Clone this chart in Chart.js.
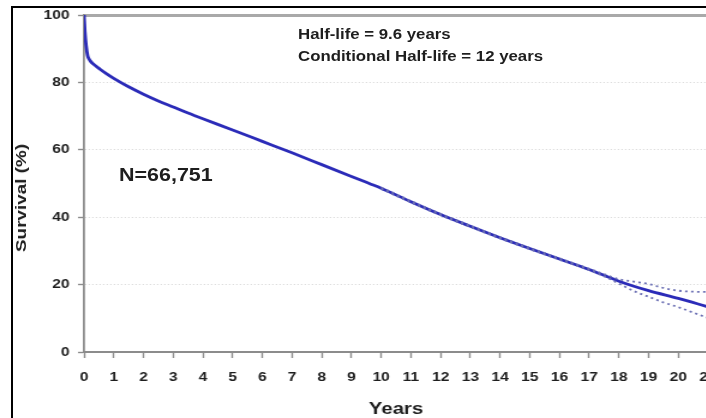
<!DOCTYPE html>
<html>
<head>
<meta charset="utf-8">
<script src="https://cdn.jsdelivr.net/npm/chart.js@4/dist/chart.umd.min.js"></script>
<style>
  html, body { margin: 0; padding: 0; background: #fff; }
  body { position: relative; width: 706px; height: 418px; overflow: hidden; font-family: 'Liberation Sans', Arial, sans-serif; color: #1e1e1e; }
  #frame { position: absolute; left: 11px; top: 6px; width: 800px; height: 500px; border-left: 2px solid #000; border-top: 2px solid #000; }
  /* the plot is drawn slightly condensed and widened horizontally */
  #plot { position: absolute; left: 0; top: 0; width: 620px; height: 430px; transform: scaleX(1.2); transform-origin: 0 0; }
  .note { position: absolute; font-weight: bold; white-space: nowrap; transform-origin: 0 0; }
  #halflife { left: 298px; top: 27.4px; font-size: 14px; line-height: 14px; transform: scaleX(1.2); }
  #condhalf { left: 298px; top: 49.4px; font-size: 14px; line-height: 14px; transform: scaleX(1.2); }
  #ncount { left: 118.5px; top: 164.6px; font-size: 19px; line-height: 19px; transform: scaleX(1.13); }
  #ytitle { position: absolute; left: 21px; top: 198px; font-weight: bold; font-size: 14px; line-height: 16px; white-space: nowrap;
            transform: translate(-50%, -50%) rotate(-90deg) scaleX(1.35); }
</style>
</head>
<body>
<div id="frame"></div>
<div id="plot"><canvas id="c"></canvas></div>
<div class="note" id="halflife">Half-life = 9.6 years</div>
<div class="note" id="condhalf">Conditional Half-life = 12 years</div>
<div class="note" id="ncount">N=66,751</div>
<div id="ytitle">Survival (%)</div>
<script>
// Kaplan-Meier survival estimate (years after transplant, % surviving)
const years = [0, 0.03, 0.07, 0.12, 0.2, 0.35, 0.54, 0.75, 1, 1.5, 2, 2.5, 3, 3.5, 4, 5, 6, 7, 8, 9, 9.6, 10, 11, 12, 13, 14, 15, 16, 17, 18, 19, 20, 21];
const survival = [100, 95, 91, 88, 86.5, 85.2, 83.9, 82.6, 81.2, 78.7, 76.5, 74.5, 72.7, 70.9, 69.2, 65.9, 62.5, 59.1, 55.6, 52.1, 50, 48.6, 44.6, 40.8, 37.3, 33.9, 30.7, 27.6, 24.5, 21.0, 18.2, 15.9, 13.4];

// Confidence band around the late part of the curve
const bandYears = [10, 11, 12, 13, 14, 15, 16, 17, 17.5, 18, 18.5, 19, 19.5, 20, 20.5, 21];
const bandUpper = [48.8, 44.8, 41.0, 37.5, 34.1, 30.9, 27.8, 24.7, 23.1, 21.6, 20.9, 20.2, 19.0, 18.2, 17.9, 17.8];
const bandLower = [48.4, 44.4, 40.6, 37.1, 33.7, 30.5, 27.4, 24.3, 22.5, 20.3, 18.1, 16.4, 14.7, 13.3, 11.7, 10.1];

// Axis ticks
const xTicks = [0, 21, 1];     // min, max, step (years)
const yTicks = [0, 100, 20];   // min, max, step (%)

const pts = (xs, ys) => xs.map((x, i) => ({ x: x, y: ys[i] }));
const FONT = "'Liberation Sans', Arial, sans-serif";
const axisGrey = '#8c8c8c';

new Chart(document.getElementById('c'), {
  type: 'scatter',
  data: {
    datasets: [
      { label: 'Upper', data: pts(bandYears, bandUpper), showLine: true, borderColor: '#6c70b4', borderWidth: 1.8,
        borderDash: [2, 3], pointRadius: 0, cubicInterpolationMode: 'monotone', order: 1 },
      { label: 'Lower', data: pts(bandYears, bandLower), showLine: true, borderColor: '#6c70b4', borderWidth: 1.8,
        borderDash: [2, 3], pointRadius: 0, cubicInterpolationMode: 'monotone', order: 1 },
      { label: 'Survival', data: pts(years, survival), showLine: true, borderColor: '#2b2bb8', borderWidth: 2.8,
        pointRadius: 0, cubicInterpolationMode: 'monotone', order: 2 }
    ]
  },
  options: {
    responsive: true,
    maintainAspectRatio: false,
    animation: false,
    layout: { padding: { top: 15, right: 30, bottom: 0, left: 0 } },
    plugins: { legend: { display: false }, tooltip: { enabled: false } },
    scales: {
      x: {
        type: 'linear', position: 'bottom', min: xTicks[0], max: xTicks[1],
        ticks: { stepSize: xTicks[2], autoSkip: false, maxRotation: 0, padding: 12, color: '#1e1e1e',
                 font: { family: FONT, size: 13, weight: 'bold' } },
        grid: { drawOnChartArea: false, drawTicks: true, tickLength: 6, tickColor: axisGrey, tickWidth: 1.4 },
        border: { color: axisGrey, width: 2 },
        title: { display: true, text: 'Years', color: '#1e1e1e', padding: { top: 0, bottom: 10 },
                 font: { family: FONT, size: 17, weight: 'bold' } },
        afterFit(scale) { scale.height = 78; }
      },
      xTop: {
        type: 'linear', axis: 'x', position: 'top', min: xTicks[0], max: xTicks[1],
        ticks: { display: false }, grid: { display: false },
        border: { color: '#a9a9a9', width: 3 },
        afterFit(scale) { scale.height = 0; }
      },
      y: {
        type: 'linear', position: 'left', min: yTicks[0], max: yTicks[1],
        ticks: { stepSize: yTicks[2], padding: 7, color: '#1e1e1e', font: { family: FONT, size: 13, weight: 'bold' } },
        grid: {
          color: (ctx) => (ctx.tick && (ctx.tick.value === yTicks[0] || ctx.tick.value === yTicks[1])) ? 'rgba(0,0,0,0)' : '#d4d4d4',
          lineWidth: 1, tickLength: 5, tickColor: axisGrey, tickWidth: 1.4
        },
        border: { color: axisGrey, width: 1.8, dash: [1, 2] },
        afterFit(scale) { scale.width = 70; }
      }
    }
  }
});
</script>
</body>
</html>
